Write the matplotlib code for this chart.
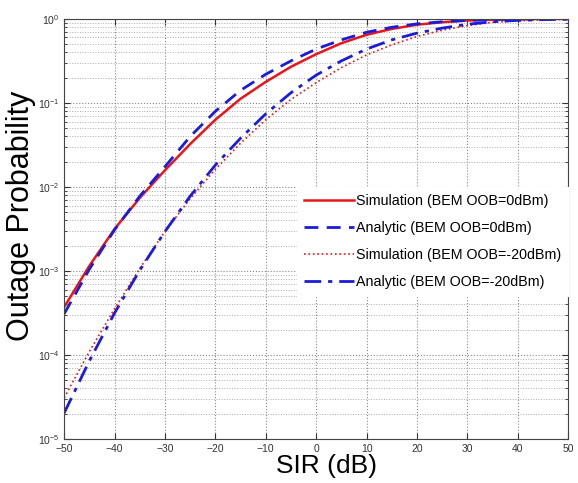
import matplotlib
matplotlib.use('Agg')
import matplotlib.pyplot as plt
from matplotlib.ticker import LogLocator, NullFormatter, MultipleLocator
import numpy as np

plt.rcParams['font.family'] = ['Liberation Sans', 'DejaVu Sans']
plt.rcParams['mathtext.fontset'] = 'custom'
plt.rcParams['mathtext.rm'] = 'Liberation Sans'

# SIR grid (dB)
sir = [-50, -45, -40, -35, -30, -25, -20, -15, -10, -5, 0, 5, 10, 15, 20, 25, 30, 35, 40, 45, 50]

# outage probability
sim_0dbm = [3.72e-4, 1.15e-3, 3.16e-3, 7.41e-3, 0.0158, 0.0324, 0.0631, 0.112, 0.178, 0.269, 0.380,
            0.513, 0.646, 0.759, 0.851, 0.912, 0.955, 0.977, 0.991, 0.998, 1.0]
ana_0dbm = [3.09e-4, 1.05e-3, 3.09e-3, 7.76e-3, 0.0174, 0.0398, 0.0794, 0.141, 0.219, 0.316, 0.437,
            0.562, 0.692, 0.794, 0.871, 0.923, 0.959, 0.982, 0.993, 0.998, 1.0]
sim_m20dbm = [3.09e-5, 1.10e-4, 3.55e-4, 1.07e-3, 2.95e-3, 7.24e-3, 0.0162, 0.0331, 0.0631, 0.110, 0.174,
              0.263, 0.372, 0.490, 0.617, 0.733, 0.832, 0.910, 0.950, 0.973, 0.986]
ana_m20dbm = [2.04e-5, 8.51e-5, 3.16e-4, 1.02e-3, 2.95e-3, 7.76e-3, 0.0182, 0.0380, 0.0741, 0.132, 0.214,
              0.316, 0.437, 0.562, 0.676, 0.776, 0.861, 0.923, 0.959, 0.979, 0.991]

labels = ['Simulation (BEM OOB=0dBm)', 'Analytic (BEM OOB=0dBm)',
          'Simulation (BEM OOB=-20dBm)', 'Analytic (BEM OOB=-20dBm)']

red = '#e8161b'
blue = '#1c1cd8'

fig = plt.figure(figsize=(5.78, 4.83), dpi=100)
ax = fig.add_axes([0.111, 0.091, 0.872, 0.870])

ax.semilogy(sir, sim_0dbm, '-', color=red, lw=1.8, label=labels[0])
ax.semilogy(sir, ana_0dbm, '--', color=blue, lw=2.0, dashes=(5, 3), label=labels[1])
ax.semilogy(sir, sim_m20dbm, ':', color=red, lw=1.2, label=labels[2])
ax.semilogy(sir, ana_m20dbm, '-.', color=blue, lw=2.0, dashes=(6, 2.5, 1.5, 2.5), label=labels[3])

ax.set_xlim(-50, 50)
ax.set_ylim(1e-5, 1)
ax.xaxis.set_major_locator(MultipleLocator(10))
ax.yaxis.set_major_locator(LogLocator(base=10, numticks=10))
ax.yaxis.set_minor_locator(LogLocator(base=10, subs=np.arange(2, 10), numticks=20))
ax.yaxis.set_minor_formatter(NullFormatter())

ax.grid(True, which='major', axis='both', linestyle=':', color='#888888', lw=0.8)
ax.grid(True, which='minor', axis='y', linestyle=':', color='#aaaaaa', lw=0.7)

ax.tick_params(which='both', direction='in', top=True, right=True, labelsize=7.5, colors='#333333')
ax.tick_params(which='major', length=4)
ax.tick_params(which='minor', length=2)
for s in ax.spines.values():
    s.set_color('#444444')
    s.set_linewidth(0.8)

ax.set_xlabel('SIR (dB)', fontsize=19)
ax.xaxis.set_label_coords(0.52, -0.035)
ax.set_ylabel('Outage Probability', fontsize=22)
ax.yaxis.set_label_coords(-0.056, 0.53)

leg = ax.legend(loc='upper right', bbox_to_anchor=(1.0, 0.60), fontsize=10.3,
                handlelength=3.5, handletextpad=0.1, labelspacing=0.9,
                borderaxespad=0.0, frameon=True, fancybox=False,
                framealpha=1.0, facecolor='white', edgecolor='white',
                borderpad=0.5)

fig.savefig('out.png', dpi=100)
